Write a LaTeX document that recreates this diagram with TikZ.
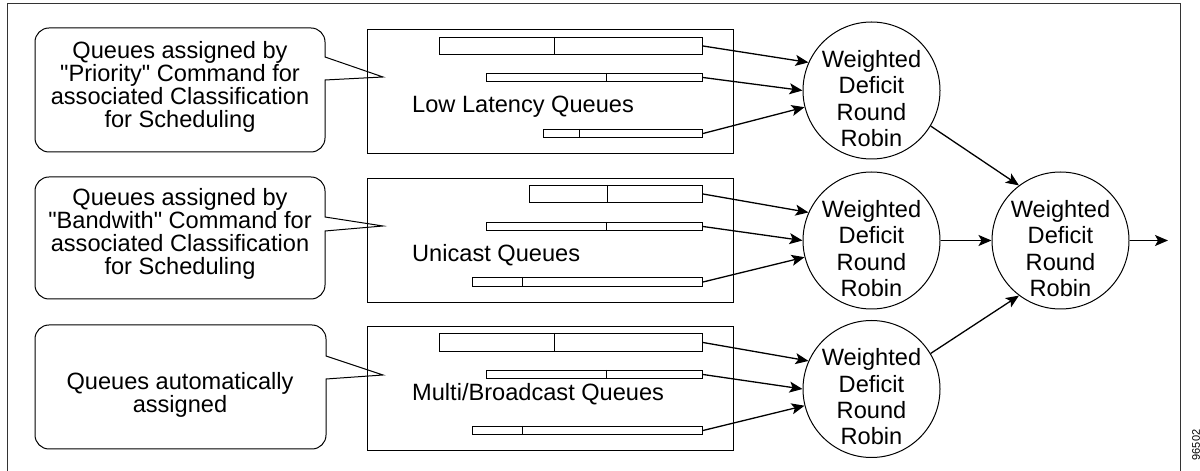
\documentclass[tikz,border=0pt]{standalone}
\usepackage{fontspec}
\setmainfont{Liberation Sans}[Ligatures=TeXOff]
\usetikzlibrary{arrows.meta,calc}
\newcommand{\qbar}[5]{%
  \node[bar, anchor=north west, minimum width={702-#2}, minimum height={#3-#4}] (#1) at (#2,#3) {};
  \draw[line width=1pt] (#5,#3) -- (#5,#4);}
\begin{document}
\begin{tikzpicture}[x=1pt,y=1pt,
  frame/.style={draw=black!80, line width=1pt},
  qbox/.style={draw, line width=1pt, minimum width=366pt, minimum height=124pt, inner sep=0pt},
  bar/.style={draw, line width=1pt, inner sep=0pt},
  flow/.style={-{Stealth[length=13pt,width=11pt,inset=3pt]}, line width=1.3pt},
  wdrr/.style={draw, circle, line width=1pt, minimum size=137pt, inner sep=0pt},
  wdrrtext/.style={align=center, font=\fontsize{23.6}{26.3}\selectfont, inner sep=0pt},
  calltext/.style={align=center, font=\fontsize{23.6}{23}\selectfont, inner sep=0pt},
  qlabel/.style={anchor=base west, font=\fontsize{23.6}{23}\selectfont, inner sep=0pt},
  callout/.style={draw, line width=1pt},
  figno/.style={rotate=90, font=\fontsize{11}{11}\selectfont, inner sep=0pt}
]
\useasboundingbox (0,0) rectangle (1200,471);
% outer frame
\draw[frame] (7,-1) -- (7,467) -- (1180,467) -- (1180,-1);
\node[figno] (figno) at (1196,26) {96502};

% callouts
\draw[callout] (49,443) -- (311,443) arc[start angle=90,end angle=0,radius=14]
  -- (325,414) -- (383,394) -- (325,391) -- (325,333)
  arc[start angle=0,end angle=-90,radius=14] -- (49,319)
  arc[start angle=270,end angle=180,radius=14] -- (35,429)
  arc[start angle=180,end angle=90,radius=14] -- cycle;
\node[calltext] (t1) at (180,384) {Queues assigned by\\"Priority" Command for\\associated Classification\\for Scheduling};

\draw[callout] (49,294) -- (311,294) arc[start angle=90,end angle=0,radius=14]
  -- (325,254) -- (383,245) -- (325,240) -- (325,186)
  arc[start angle=0,end angle=-90,radius=14] -- (49,172)
  arc[start angle=270,end angle=180,radius=14] -- (35,280)
  arc[start angle=180,end angle=90,radius=14] -- cycle;
\node[calltext] (t2) at (180,237.5) {Queues assigned by\\"Bandwith" Command for\\associated Classification\\for Scheduling};

\draw[callout] (49,146) -- (312,146) arc[start angle=90,end angle=0,radius=14]
  -- (326,115) -- (383,96) -- (326,92) -- (326,36)
  arc[start angle=0,end angle=-90,radius=14] -- (49,22)
  arc[start angle=270,end angle=180,radius=14] -- (35,132)
  arc[start angle=180,end angle=90,radius=14] -- cycle;
\node[calltext] (t3) at (180,76.5) {Queues automatically\\assigned};

% queue boxes
\node[qbox, anchor=north west] (box1) at (367,442) {};
\node[qbox, anchor=north west] (box2) at (367,293) {};
\node[qbox, anchor=north west] (box3) at (367,145) {};
\node[qlabel] (l1) at (412,358) {Low Latency Queues};
\node[qlabel] (l2) at (412,209) {Unicast Queues};
\node[qlabel] (l3) at (412,70) {Multi/Broadcast Queues};

% bars
\qbar{b11}{439}{434}{417}{554}
\qbar{b12}{486}{398}{390}{606}
\qbar{b13}{543}{342}{334}{579}
\qbar{b21}{529}{286}{269}{607}
\qbar{b22}{486}{249}{241}{606}
\qbar{b23}{472}{194}{185}{522}
\qbar{b31}{439}{138}{120}{554}
\qbar{b32}{486}{101}{93}{606}
\qbar{b33}{472}{45}{37}{522}

% schedulers
\node[wdrr] (c1) at (871.5,380.5) {};
\node[wdrr] (c2) at (871.5,230.5) {};
\node[wdrr] (c3) at (1060.5,230.5) {};
\node[wdrr] (c4) at (871.5,82) {};
\node[wdrrtext] (w1) at (871.5,372.5) {Weighted\\Deficit\\Round\\Robin};
\node[wdrrtext] (w2) at (871.5,222.5) {Weighted\\Deficit\\Round\\Robin};
\node[wdrrtext] (w3) at (1060.5,222.5) {Weighted\\Deficit\\Round\\Robin};
\node[wdrrtext] (w4) at (871.5,74) {Weighted\\Deficit\\Round\\Robin};

% connectors
\draw[flow] (b11.east) -- (c1.156);
\draw[flow] (b12.east) -- (c1.180);
\draw[flow] (b13.east) -- (c1.194);
\draw[flow] (b21.east) -- (c2.156);
\draw[flow] (b22.east) -- (c2.180);
\draw[flow] (b23.east) -- (c2.194);
\draw[flow] (b31.east) -- (c4.156);
\draw[flow] (b32.east) -- (c4.180);
\draw[flow] (b33.east) -- (c4.194);
\draw[flow] (c1.-31) -- (c3.127);
\draw[flow] (c2.east) -- (c3.west);
\draw[flow] (c4.31) -- (c3.233);
\coordinate (out) at (1168,230.5);
\draw[flow] (c3.east) -- (out);
\end{tikzpicture}
\end{document}
